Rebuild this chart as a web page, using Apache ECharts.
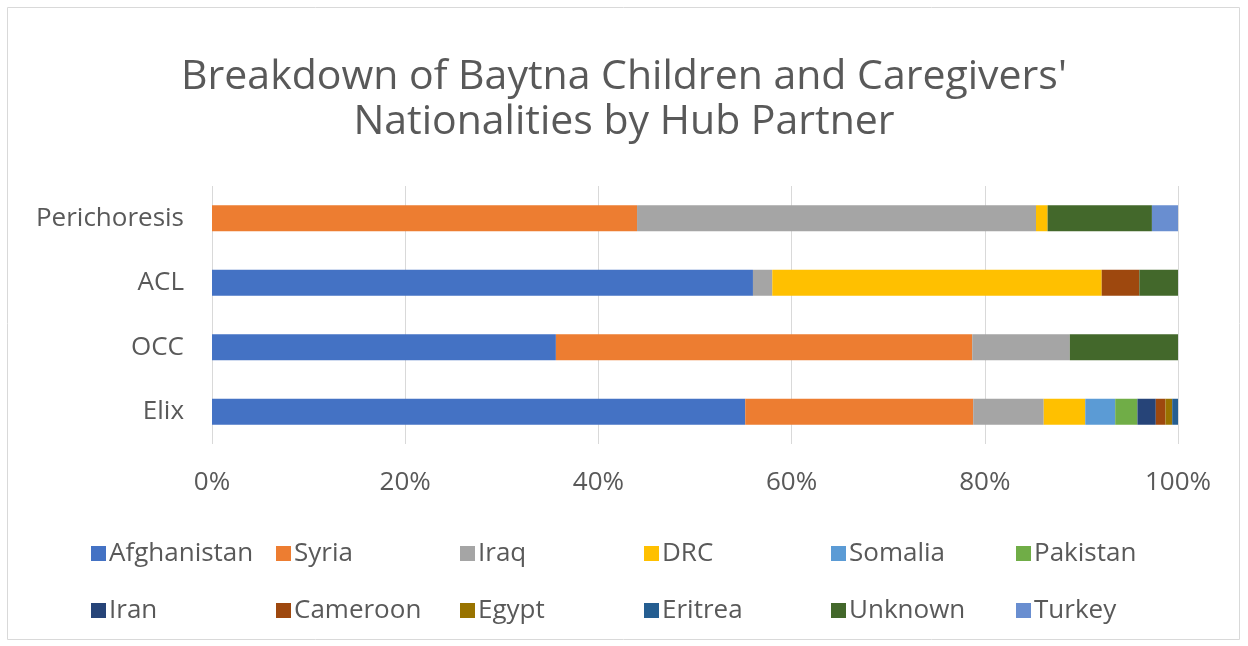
<!DOCTYPE html>
<html>
<head>
<meta charset="utf-8">
<script src="https://cdn.jsdelivr.net/npm/echarts@6/dist/echarts.min.js"></script>
<style>
html,body{margin:0;padding:0;background:#fff;}
#chart{width:1248px;height:646px;}
</style>
</head>
<body>
<div id="chart"></div>
<script>
// Categories (bottom to top as ECharts draws them)
const categories = ['Elix', 'OCC', 'ACL', 'Perichoresis'];
const tickValues = [0, 20, 40, 60, 80, 100];

// Series values (% share), ordered as categories
const afghanistan = [55.2, 35.6, 56.0, 0];
const syria       = [23.6, 43.1, 0, 44.0];
const iraq        = [7.3, 10.1, 2.0, 41.3];
const drc         = [4.3, 0, 34.1, 1.2];
const somalia     = [3.1, 0, 0, 0];
const pakistan    = [2.3, 0, 0, 0];
const iran        = [1.9, 0, 0, 0];
const cameroon    = [1.0, 0, 3.9, 0];
const egypt       = [0.7, 0, 0, 0];
const eritrea     = [0.6, 0, 0, 0];
const unknown     = [0, 11.2, 4.0, 10.8];
const turkey      = [0, 0, 0, 2.7];

const seriesNames = ['Afghanistan','Syria','Iraq','DRC','Somalia','Pakistan','Iran','Cameroon','Egypt','Eritrea','Unknown','Turkey'];
const seriesData = [afghanistan, syria, iraq, drc, somalia, pakistan, iran, cameroon, egypt, eritrea, unknown, turkey];
const colors = ['#4472C4','#ED7D31','#A5A5A5','#FFC000','#5B9BD5','#70AD47','#264478','#9E480E','#997300','#255E91','#43682B','#698ED0'];

const FONT = 'Open Sans';
const TXT = '#595959';

const chart = echarts.init(document.getElementById('chart'), null, {renderer: 'canvas'});

const colX = [86, 271, 455, 639, 826, 1011];
const legends = colX.map((x, i) => ({
  orient: 'vertical',
  left: x,
  top: 535,
  itemWidth: 15,
  itemHeight: 15,
  itemGap: 30,
  icon: 'rect',
  selectedMode: false,
  data: [seriesNames[i], seriesNames[i + 6]],
  textStyle: {fontFamily: FONT, fontSize: 26, color: TXT, lineHeight: 27, padding: [0, 0, 0, -2]}
}));

chart.setOption({
  animation: false,
  color: colors,
  title: {
    text: "Breakdown of Baytna Children and Caregivers'\nNationalities by Hub Partner",
    left: 'center',
    top: 50,
    textStyle: {fontFamily: FONT, fontSize: 41, fontWeight: 'normal', color: TXT, lineHeight: 45}
  },
  graphic: [{
    type: 'rect',
    shape: {x: 7.5, y: 7.5, width: 1232, height: 632},
    style: {fill: 'none', stroke: '#d9d9d9', lineWidth: 1},
    silent: true
  }],
  legend: legends,
  grid: {left: 212, right: 70, top: 186, bottom: 202},
  xAxis: {
    type: 'value',
    min: 0,
    max: 100,
    interval: 20,
    axisLine: {show: false},
    axisTick: {show: false},
    splitLine: {lineStyle: {color: '#d9d9d9', width: 1}},
    axisLabel: {
      fontFamily: FONT, fontSize: 26, color: TXT, margin: 26,
      formatter: v => tickValues.indexOf(v) >= 0 ? v + '%' : ''
    }
  },
  yAxis: {
    type: 'category',
    data: categories,
    axisLine: {show: false},
    axisTick: {show: false},
    axisLabel: {fontFamily: FONT, fontSize: 26, color: TXT, margin: 28}
  },
  series: seriesNames.map((name, i) => ({
    name: name,
    type: 'bar',
    stack: 'total',
    barWidth: 26,
    data: seriesData[i],
    itemStyle: {color: colors[i]}
  }))
});
</script>
</body>
</html>
